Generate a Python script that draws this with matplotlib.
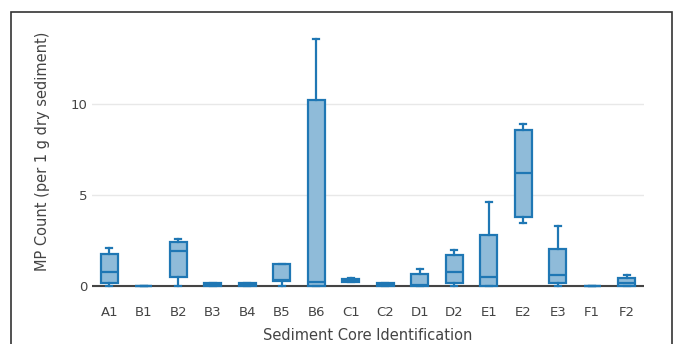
import matplotlib.pyplot as plt
from matplotlib.patches import Rectangle

plt.rcParams['font.family'] = ['DejaVu Sans']

# sediment cores
cores = ["A1", "B1", "B2", "B3", "B4", "B5", "B6", "C1",
         "C2", "D1", "D2", "E1", "E2", "E3", "F1", "F2"]
# box statistics (MP per 1 g dry sediment)
lo_whisk = [0.0, 0.0, 0.0, 0.0, 0.0, 0.0, 0.0, 0.2, 0.0, 0.0, 0.0, 0.0, 3.47, 0.0, 0.0, 0.0]
q1 =       [0.17, 0.0, 0.46, 0.0, 0.0, 0.26, 0.0, 0.22, 0.0, 0.0, 0.17, 0.0, 3.77, 0.15, 0.0, 0.0]
median =   [0.77, 0.0, 1.89, 0.06, 0.06, 0.30, 0.19, 0.30, 0.05, 0.02, 0.77, 0.48, 6.19, 0.59, 0.0, 0.12]
q3 =       [1.76, 0.0, 2.42, 0.13, 0.13, 1.19, 10.24, 0.36, 0.12, 0.66, 1.69, 2.79, 8.59, 2.04, 0.0, 0.44]
hi_whisk = [2.07, 0.0, 2.57, 0.17, 0.17, 1.21, 13.57, 0.40, 0.15, 0.90, 1.98, 4.59, 8.88, 3.29, 0.0, 0.59]

blue = "#1f77b4"
fill = "#8fbbd9"

fig = plt.figure(figsize=(6.74, 3.44), dpi=100)
ax = fig.add_axes([92 / 674, 1 - 298 / 344, 552 / 674, 273 / 344])

stats = []
for i in range(len(cores)):
    stats.append(dict(label=cores[i], whislo=lo_whisk[i], q1=q1[i], med=median[i],
                      q3=q3[i], whishi=hi_whisk[i], fliers=[]))

ax.bxp(stats, positions=range(len(cores)), widths=0.5, patch_artist=True,
       showfliers=False,
       boxprops=dict(facecolor=fill, edgecolor=blue, linewidth=1.6),
       medianprops=dict(color=blue, linewidth=1.6),
       whiskerprops=dict(color=blue, linewidth=1.6),
       capprops=dict(color=blue, linewidth=1.6),
       capwidths=0.17, zorder=3)

ax.set_xlim(-0.5, len(cores) - 0.5)
ax.set_ylim(-0.68, 14.35)
ax.set_yticks([0, 5, 10])
ax.yaxis.grid(True, color="#e8e8e8", linewidth=1)
ax.set_axisbelow(True)
ax.axhline(0, color="#444444", linewidth=1.5, zorder=2)
for s in ax.spines.values():
    s.set_visible(False)
ax.tick_params(length=0, labelsize=9.5, colors="#444444")
ax.tick_params(axis="x", pad=6)
ax.tick_params(axis="y", pad=3)

ax.set_xlabel("Sediment Core Identification", fontsize=10.5, color="#444444", va="center")
ax.set_ylabel("MP Count (per 1 g dry sediment)", fontsize=10.5, color="#444444", va="center")
ax.xaxis.set_label_coords(0.5, -0.139)
ax.yaxis.set_label_coords(-0.089, 0.538)

fig.patches.append(Rectangle((11 / 674, -0.1), 661 / 674, 1.1 - 12 / 344,
                             transform=fig.transFigure, fill=False,
                             edgecolor="#333333", linewidth=1.2))

fig.savefig("out.png", dpi=100)
